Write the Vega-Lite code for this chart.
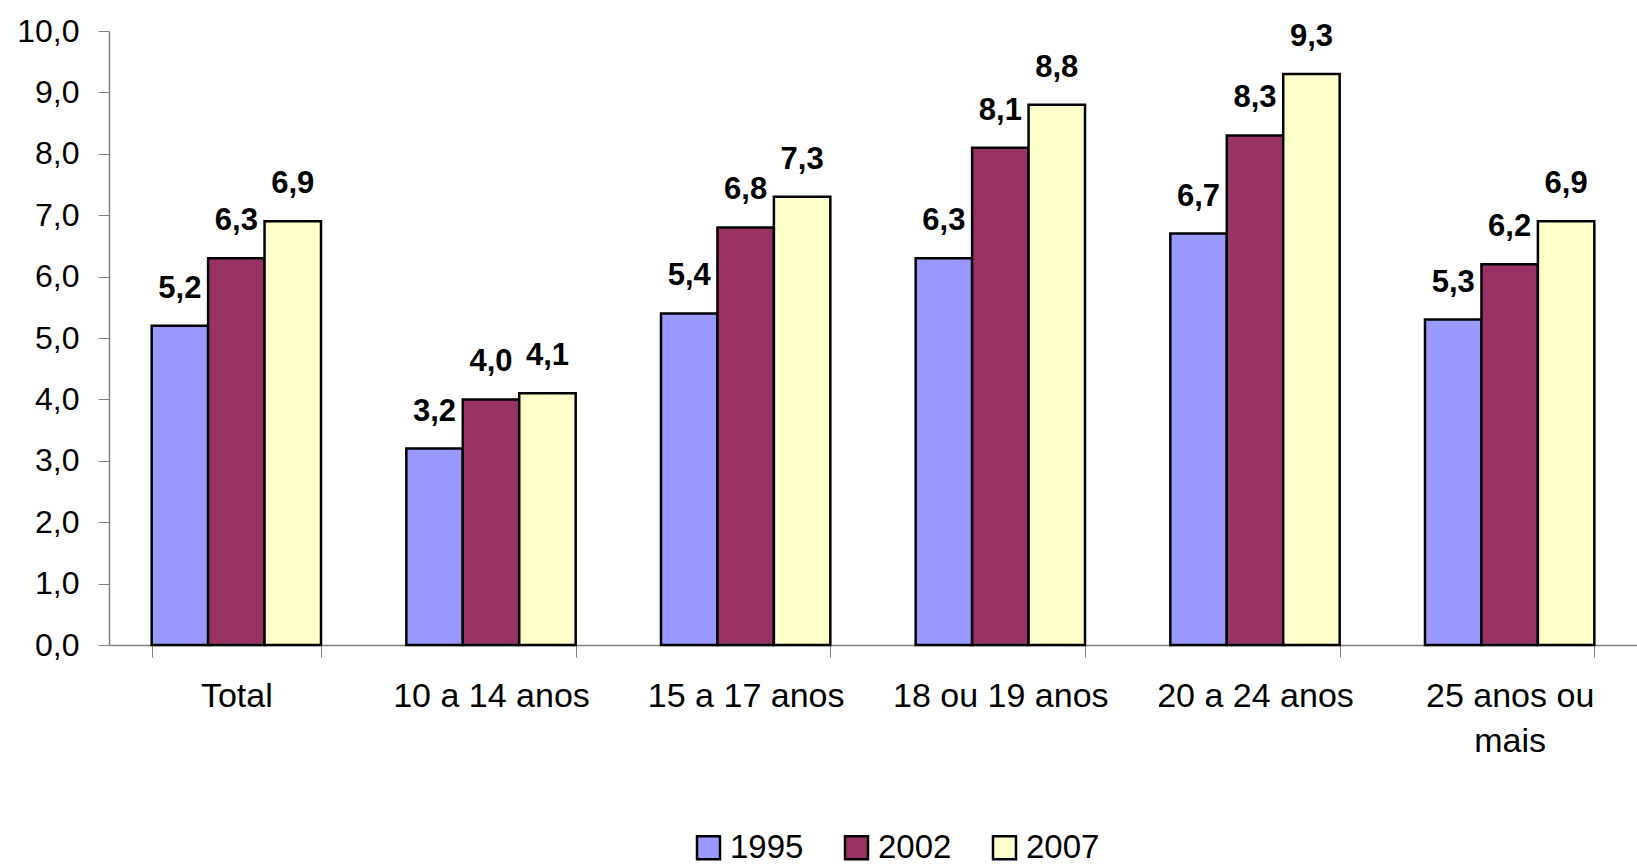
{
  "$schema": "https://vega.github.io/schema/vega-lite/v6.json",
  "width": 1528,
  "height": 614,
  "autosize": "none",
  "padding": {"left": 109, "top": 31, "right": 0, "bottom": 220},
  "config": {
    "locale": {"number": {"decimal": ",", "thousands": ".", "grouping": [3], "currency": ["R$", ""]}},
    "view": {"stroke": null},
    "font": "Liberation Sans"
  },
  "data": {
    "values": [
      {"faixa": "Total", "ano": "1995", "valor": 5.2},
      {"faixa": "Total", "ano": "2002", "valor": 6.3},
      {"faixa": "Total", "ano": "2007", "valor": 6.9},
      {"faixa": "10 a 14 anos", "ano": "1995", "valor": 3.2},
      {"faixa": "10 a 14 anos", "ano": "2002", "valor": 4.0},
      {"faixa": "10 a 14 anos", "ano": "2007", "valor": 4.1},
      {"faixa": "15 a 17 anos", "ano": "1995", "valor": 5.4},
      {"faixa": "15 a 17 anos", "ano": "2002", "valor": 6.8},
      {"faixa": "15 a 17 anos", "ano": "2007", "valor": 7.3},
      {"faixa": "18 ou 19 anos", "ano": "1995", "valor": 6.3},
      {"faixa": "18 ou 19 anos", "ano": "2002", "valor": 8.1},
      {"faixa": "18 ou 19 anos", "ano": "2007", "valor": 8.8},
      {"faixa": "20 a 24 anos", "ano": "1995", "valor": 6.7},
      {"faixa": "20 a 24 anos", "ano": "2002", "valor": 8.3},
      {"faixa": "20 a 24 anos", "ano": "2007", "valor": 9.3},
      {"faixa": "25 anos ou mais", "ano": "1995", "valor": 5.3},
      {"faixa": "25 anos ou mais", "ano": "2002", "valor": 6.2},
      {"faixa": "25 anos ou mais", "ano": "2007", "valor": 6.9}
    ]
  },
  "encoding": {
    "x": {
      "field": "faixa",
      "type": "nominal",
      "sort": ["Total", "10 a 14 anos", "15 a 17 anos", "18 ou 19 anos", "20 a 24 anos", "25 anos ou mais"],
      "scale": {"paddingInner": 0.335, "paddingOuter": 0.1675},
      "axis": {
        "title": null,
        "labelAngle": 0,
        "labelLimit": 0,
        "tickBand": "extent",
        "tickSize": 12,
        "tickColor": "#808080",
        "domainColor": "#808080",
        "domainWidth": 1.5,
        "labelFontSize": 34,
        "labelColor": "black",
        "labelPadding": 22,
        "labelLineHeight": 45,
        "labelExpr": "datum.label == '25 anos ou mais' ? ['25 anos ou', 'mais'] : datum.label"
      }
    },
    "xOffset": {"field": "ano", "type": "nominal", "sort": ["1995", "2002", "2007"], "scale": {"paddingInner": 0, "paddingOuter": 0}},
    "y": {
      "field": "valor",
      "type": "quantitative",
      "scale": {"domain": [0, 10], "nice": false},
      "axis": {
        "title": null,
        "values": [0, 1, 2, 3, 4, 5, 6, 7, 8, 9, 10],
        "format": ".1f",
        "grid": false,
        "tickSize": 11,
        "tickColor": "#808080",
        "domainColor": "#808080",
        "domainWidth": 1.5,
        "labelFontSize": 32,
        "labelColor": "black",
        "labelPadding": 19
      }
    }
  },
  "layer": [
    {
      "mark": {"type": "bar", "stroke": "black", "strokeWidth": 2.5},
      "encoding": {
        "color": {
          "field": "ano",
          "type": "nominal",
          "sort": ["1995", "2002", "2007"],
          "scale": {"domain": ["1995", "2002", "2007"], "range": ["#9999FF", "#993366", "#FFFFCC"]},
          "legend": {
            "title": null,
            "orient": "none",
            "direction": "horizontal",
            "legendX": 583,
            "legendY": 800,
            "symbolType": "square",
            "symbolSize": 529,
            "symbolStrokeColor": "black",
            "symbolStrokeWidth": 2.5,
            "symbolOpacity": 1,
            "labelFontSize": 33,
            "labelColor": "black",
            "labelOffset": 5,
            "columnPadding": 36
          }
        }
      }
    },
    {
      "mark": {"type": "text", "fontWeight": "bold", "fontSize": 31, "baseline": "alphabetic", "dy": -28, "color": "black"},
      "encoding": {
        "text": {"field": "valor", "type": "quantitative", "format": ".1f"}
      }
    }
  ]
}
